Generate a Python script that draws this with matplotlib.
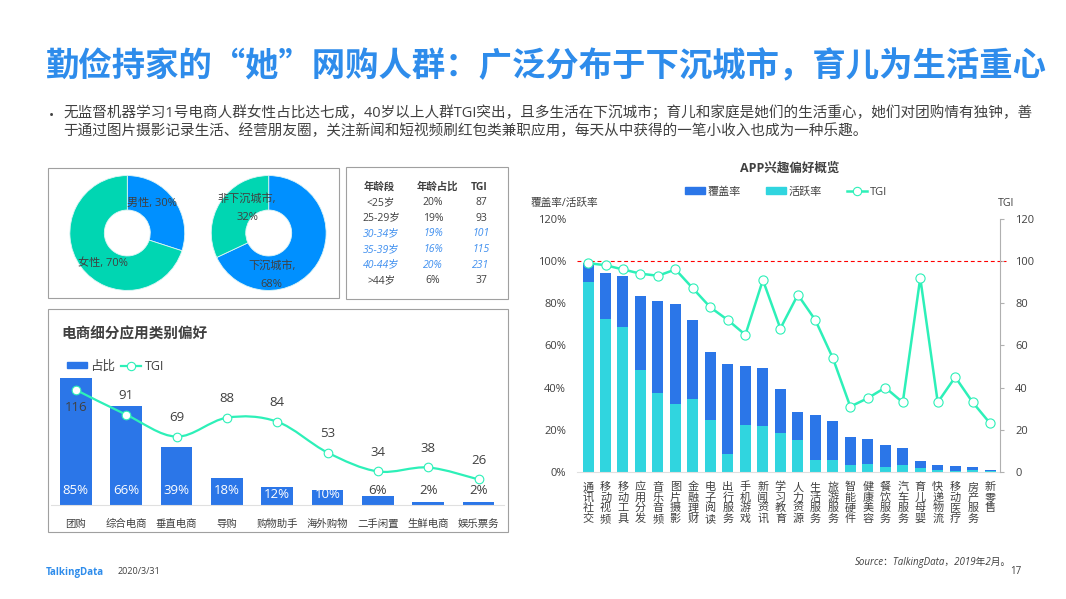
import matplotlib
matplotlib.use("Agg")
import matplotlib.pyplot as plt
import numpy as np
from matplotlib.lines import Line2D
from matplotlib.patches import Patch, PathPatch, Rectangle
from matplotlib.path import Path

# ---- data ----
gender_labels = ["男性", "女性"]
gender_values = [30, 70]
city_labels = ["下沉城市", "非下沉城市"]
city_values = [68, 32]

table_header = ["年龄段", "年龄占比", "TGI"]
age_groups = ["<25岁", "25-29岁", "30-34岁", "35-39岁", "40-44岁", ">44岁"]
age_share = ["20%", "19%", "19%", "16%", "20%", "6%"]
age_tgi = ["87", "93", "101", "115", "231", "37"]
age_highlight = [False, False, True, True, True, False]

ec_categories = ["团购", "综合电商", "垂直电商", "导购", "购物助手", "海外购物", "二手闲置", "生鲜电商", "娱乐票务"]
ec_share = [85, 66, 39, 18, 12, 10, 6, 2, 2]
ec_tgi = [116, 91, 69, 88, 84, 53, 34, 38, 26]

app_categories = ["通讯社交", "移动视频", "移动工具", "应用分发", "音乐音频", "图片摄影", "金融理财", "电子阅读",
                  "出行服务", "手机游戏", "新闻资讯", "学习教育", "人力资源", "生活服务", "旅游服务", "智能硬件",
                  "健康美容", "餐饮服务", "汽车服务", "育儿母婴", "快递物流", "移动医疗", "房产服务", "新零售"]
app_coverage = [98.9, 94.3, 92.9, 83.2, 81, 79.8, 71.9, 56.7, 51.3, 50.2, 49.3, 39.2,
                28.6, 27, 24.2, 16.6, 15.6, 12.8, 11.4, 5.2, 3.2, 2.9, 2.5, 0.9]
app_active = [90, 72.3, 68.7, 48.3, 37.4, 32.2, 34.6, 24.5, 8.4, 22.1, 21.9, 18.3,
              15.2, 5.7, 5.5, 3.3, 3.8, 2.5, 3.3, 1.9, 0.8, 0.5, 1, 0.3]
app_tgi = [99, 98, 96, 94, 93, 96, 87, 78, 72, 65, 91, 68,
           84, 72, 54, 31, 35, 40, 33, 92, 33, 45, 33, 23]

# full width punctuation written as escapes
COLON, COMMA, SEMI = "\uff1a", "\uff0c", "\uff1b"
title = f"勤俭持家的“她”网购人群{COLON}广泛分布于下沉城市{COMMA}育儿为生活重心"
body_lines = [f"无监督机器学习1号电商人群女性占比达七成{COMMA}40岁以上人群TGI突出{COMMA}且多生活在下沉城市{SEMI}"
              f"育儿和家庭是她们的生活重心{COMMA}她们对团购情有独钟{COMMA}善",
              f"于通过图片摄影记录生活、经营朋友圈{COMMA}关注新闻和短视频刷红包类兼职应用{COMMA}"
              f"每天从中获得的一笔小收入也成为一种乐趣。"]
source = f"Source{COLON}TalkingData{COMMA}2019年2月。"

# ---- style ----
W, H = 1066, 599
BLUE = "#2B76E8"
CYAN = "#30D5DF"
LINE = "#2DF0B8"
DONUT_BLUE = "#0090FF"
DONUT_TEAL = "#00D6B2"
TEXT = "#404040"
BORDER = "#A0A0A0"
plt.rcParams["font.family"] = ["Open Sans", "Noto Sans CJK SC", "DejaVu Sans"]
plt.rcParams["axes.unicode_minus"] = False


def px_axes(x0, y0, x1, y1, **kw):
    return fig.add_axes([x0 / W, 1 - y1 / H, (x1 - x0) / W, (y1 - y0) / H], **kw)


def smooth_path(xs, ys):
    # catmull-rom style bezier through the points
    xs, ys = np.asarray(xs, float), np.asarray(ys, float)
    verts = [(xs[0], ys[0])]
    codes = [Path.MOVETO]
    for i in range(len(xs) - 1):
        a, b = max(i - 1, 0), min(i + 2, len(xs) - 1)
        verts.append((xs[i] + (xs[i + 1] - xs[a]) / 6, ys[i] + (ys[i + 1] - ys[a]) / 6))
        verts.append((xs[i + 1] - (xs[b] - xs[i]) / 6, ys[i + 1] - (ys[b] - ys[i]) / 6))
        verts.append((xs[i + 1], ys[i + 1]))
        codes += [Path.CURVE4, Path.CURVE4, Path.CURVE4]
    return Path(verts, codes)


fig = plt.figure(figsize=(W / 100, H / 100), dpi=100, facecolor="white")

# overlay in pixel coordinates for slide text and panel frames
bg = fig.add_axes([0, 0, 1, 1])
bg.set_xlim(0, W)
bg.set_ylim(H, 0)
bg.axis("off")

bg.text(45, 67, title, fontsize=24, fontweight="bold", color="#2E8CEB", va="center",
        family=["Noto Sans CJK SC", "DejaVu Sans"])
bg.text(49, 116, "•", fontsize=10, color=TEXT, va="center")
bg.text(63, 114, body_lines[0], fontsize=10.5, color=TEXT, va="center")
bg.text(63, 132, body_lines[1], fontsize=10.5, color=TEXT, va="center")

for x0, y0, x1, y1 in [(47.5, 167.5, 338.5, 297.5), (345.5, 166.5, 507.5, 298.5), (47.5, 308.5, 507.5, 531.5)]:
    bg.add_patch(Rectangle((x0, y0), x1 - x0, y1 - y0, fill=False, ec=BORDER, lw=0.8))

# ---- donuts ----
for cx, values, colors in [(127.3, gender_values, [DONUT_BLUE, DONUT_TEAL]),
                           (268.7, city_values, [DONUT_BLUE, DONUT_TEAL])]:
    ax = px_axes(cx - 58, 175, cx + 58, 291)
    ax.pie(values, colors=colors, startangle=90, counterclock=False, radius=1,
           wedgeprops=dict(width=0.6, edgecolor="#DDF5F5", linewidth=0.6))
    ax.set_xlim(-1.01, 1.01)
    ax.set_ylim(-1.01, 1.01)

bg_top = fig.add_axes([0, 0, 1, 1], zorder=5)
bg_top.set_xlim(0, W)
bg_top.set_ylim(H, 0)
bg_top.axis("off")
bg_top.text(151.7, 203.5, f"{gender_labels[0]}, {gender_values[0]}%", fontsize=8, color=TEXT, ha="center", va="center")
bg_top.text(103, 263.5, f"{gender_labels[1]}, {gender_values[1]}%", fontsize=8, color=TEXT, ha="center", va="center")
bg_top.text(246.7, 199.5, f"{city_labels[1]},", fontsize=8, color=TEXT, ha="center", va="center")
bg_top.text(247, 217.5, f"{city_values[1]}%", fontsize=8, color=TEXT, ha="center", va="center")
bg_top.text(271.7, 266.5, f"{city_labels[0]},", fontsize=8, color=TEXT, ha="center", va="center")
bg_top.text(271.7, 284.5, f"{city_values[0]}%", fontsize=8, color=TEXT, ha="center", va="center")

# ---- age table ----
col_x = [381, 433, 481]
for x, name, in zip([379, 437, 479], table_header):
    bg.text(x, 187, name, fontsize=7.5, fontweight="bold", color=TEXT, ha="center", va="center")
for i, row in enumerate(zip(age_groups, age_share, age_tgi)):
    y = 202.6 + i * 15.6
    for x, val in zip(col_x, row):
        if age_highlight[i]:
            bg.text(x, y, val, fontsize=7.5, color="#3F8FEF", style="italic", ha="center", va="center")
        else:
            bg.text(x, y, val, fontsize=7.5, color=TEXT, ha="center", va="center")

# ---- e-commerce chart ----
bg.text(61, 334, "电商细分应用类别偏好", fontsize=10.5, fontweight="bold", color=TEXT, va="center")

ax1 = px_axes(50.7, 355.5, 503.7, 505.3)
x1 = np.arange(len(ec_categories))
ax1.bar(x1, ec_share, width=0.63, color=BLUE)
ax1.set_xlim(-0.5, 8.5)
ax1.set_ylim(0, 100)
ax1.set_yticks([])
ax1.set_xticks(x1, ec_categories, fontsize=7.5, color=TEXT)
ax1.tick_params(axis="x", length=0, pad=10)
for s in ["top", "left", "right"]:
    ax1.spines[s].set_visible(False)
ax1.spines["bottom"].set_color("#E0E0E0")
for i, v in enumerate(ec_share):
    # share labels sit low inside the bar, dark once the bar is too short
    off = 7.5 if v in (12, 10) else 10.5
    ax1.annotate(f"{v}%", (i, 0), xytext=(0, off), textcoords="offset points", ha="center", va="center",
                 fontsize=9.5, color="white" if v >= 10 else TEXT)

ax1b = ax1.twinx()
ax1b.set_ylim(0, 150.5)
ax1b.axis("off")
ax1b.add_patch(PathPatch(smooth_path(x1, ec_tgi), fill=False, ec=LINE, lw=1.6))
ax1b.plot(x1, ec_tgi, ls="none", marker="o", ms=6.2, mfc="white", mec=LINE, mew=0.8)
for i, v in enumerate(ec_tgi):
    off = -13 if i == 0 else 13.5
    ax1b.annotate(str(v), (i, v), xytext=(0, off), textcoords="offset points", ha="center", va="center",
                  fontsize=9.5, color=TEXT)
fig.legend(handles=[Patch(color=BLUE, label="占比"),
                    Line2D([], [], color=LINE, lw=1.6, marker="o", ms=6, mfc="white", mec=LINE, mew=0.8, label="TGI")],
           loc="center left", bbox_to_anchor=(67 / W, 1 - 366 / H), ncol=2, frameon=False, fontsize=9,
           labelcolor=TEXT, handlelength=1.6, handleheight=0.45, handletextpad=0.25, columnspacing=0.5,
           borderpad=0, borderaxespad=0)

# ---- APP chart ----
bg.text(790, 168, "APP兴趣偏好概览", fontsize=9, fontweight="bold", color=TEXT, ha="center", va="center")
bg.text(531, 203, "覆盖率/活跃率", fontsize=7.7, color=TEXT, va="center")
bg.text(1006, 203, "TGI", fontsize=7.7, color=TEXT, ha="center", va="center")

ax2 = px_axes(577, 218.8, 1000, 472)
x2 = np.arange(len(app_categories))
ax2.bar(x2, app_coverage, width=0.63, color=BLUE)
ax2.bar(x2, app_active, width=0.63, color=CYAN)
ax2.set_xlim(-0.63, 23.56)
ax2.set_ylim(0, 120)
ax2.set_yticks(range(0, 121, 20), [f"{v}%" for v in range(0, 121, 20)], fontsize=8, color=TEXT)
ax2.tick_params(axis="y", length=0, pad=8)
ax2.set_xticks(x2, ["\n".join(c) for c in app_categories], fontsize=8, color=TEXT, linespacing=0.93, va="top")
ax2.tick_params(axis="x", length=0, pad=7.5)
for s in ["top", "left", "right"]:
    ax2.spines[s].set_visible(False)
ax2.spines["bottom"].set_color("#E0E0E0")

ax2b = ax2.twinx()
ax2b.set_ylim(0, 120)
ax2b.set_yticks(range(0, 121, 20), range(0, 121, 20), fontsize=8, color=TEXT)
ax2b.tick_params(axis="y", length=3, width=0.8, color="#B0B0B0", pad=8)
for s in ["top", "left", "bottom"]:
    ax2b.spines[s].set_visible(False)
ax2b.spines["right"].set_color("#B0B0B0")
ax2b.axhline(100, xmin=0, xmax=1.015, color="#FF0000", lw=0.8, ls=(0, (3.5, 2.5)), clip_on=False)
ax2b.plot(x2, app_tgi, color=LINE, lw=1.8, marker="o", ms=6.6, mfc="white", mec=LINE, mew=0.8, clip_on=False)

fig.legend(handles=[Patch(color=BLUE, label="覆盖率"), Patch(color=CYAN, label="活跃率"),
                    Line2D([], [], color=LINE, lw=1.8, marker="o", ms=6, mfc="white", mec=LINE, mew=0.8, label="TGI")],
           loc="center left", bbox_to_anchor=(685 / W, 1 - 192 / H), ncol=3, frameon=False, fontsize=8,
           labelcolor=TEXT, handlelength=1.8, handleheight=0.5, handletextpad=0.2, columnspacing=2.3,
           borderpad=0, borderaxespad=0)

# ---- footer ----
bg.text(855, 562, source, fontsize=7, style="italic", color=TEXT, va="center")
bg.text(1016, 571, "17", fontsize=7, color=TEXT, ha="center", va="center")
bg.text(46, 572, "TalkingData", fontsize=7, fontweight="bold", color="#2E8CEB", va="center")
bg.text(118, 572, "2020/3/31", fontsize=6.5, color=TEXT, va="center")

fig.savefig("out.png", dpi=100)
